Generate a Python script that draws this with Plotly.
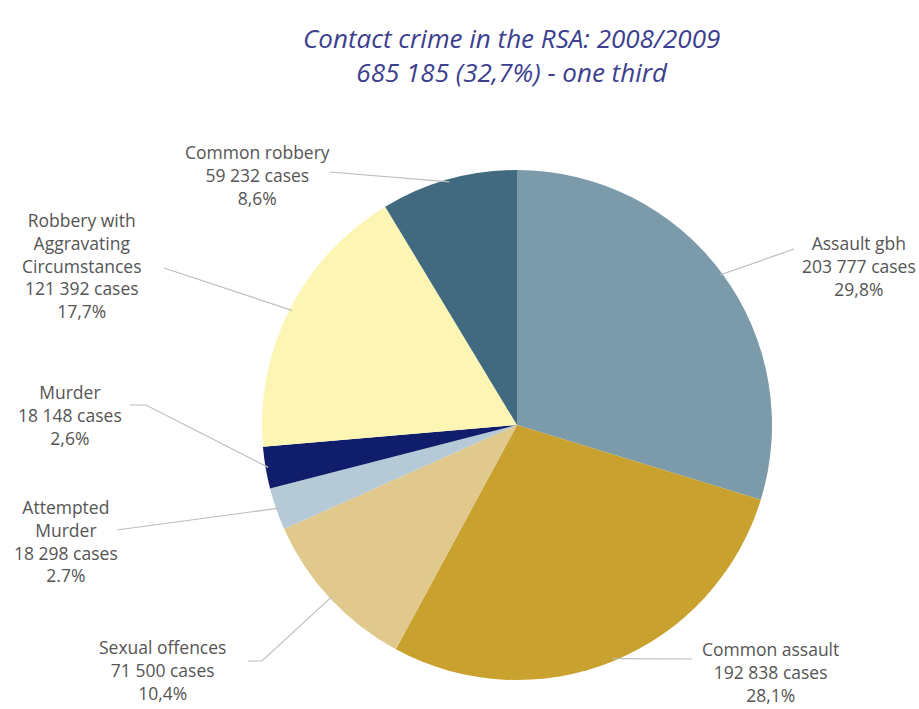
import math
import plotly.graph_objects as go

W, H = 919, 709

categories = ["Assault gbh", "Common assault", "Sexual offences", "Attempted<br>Murder",
              "Murder", "Robbery with<br>Aggravating<br>Circumstances", "Common robbery"]
cases = [203777, 192838, 71500, 18298, 18148, 121392, 59232]
case_labels = ["203 777 cases", "192 838 cases", "71 500 cases", "18 298 cases",
               "18 148 cases", "121 392 cases", "59 232 cases"]
pct_labels = ["29,8%", "28,1%", "10,4%", "2.7%", "2,6%", "17,7%", "8,6%"]
colors = ["#7b9bab", "#c9a12f", "#e1c98d", "#b6c9d6", "#0f1d6b", "#fdf5b4", "#416a80"]

# layout (pixel) positions of label blocks and leader-line label-side points
label_pos = [(859, 266), (770, 672), (162, 670), (66, 541), (70, 415), (82, 265), (257, 175)]
leader_start = [[(794, 249)], [(692, 659)], [(248, 661), (262, 661)], [(117, 530)],
                [(130, 405), (146, 405)], [(164, 268)], [(330, 172)]]

cx, cy, R = 517, 425, 255


def px(x):
    return x / W


def py(y):
    return 1 - y / H


fig = go.Figure(go.Pie(
    labels=[c.replace("<br>", " ") for c in categories],
    values=cases,
    sort=False,
    direction="clockwise",
    rotation=0,
    marker=dict(colors=colors, line=dict(width=0)),
    textinfo="none",
    hoverinfo="label+value+percent",
    showlegend=False,
    domain=dict(x=[px(cx - R), px(cx + R)], y=[py(cy + R), py(cy - R)]),
))

total = sum(cases)
cum = 0
shapes = []
annotations = []
for i, v in enumerate(cases):
    mid = (cum + v / 2) / total * 2 * math.pi
    cum += v
    ex = cx + R * 0.99 * math.sin(mid)
    ey = cy - R * 0.99 * math.cos(mid)
    pts = leader_start[i] + [(ex, ey)]
    path = "M " + " L ".join(f"{px(x)},{py(y)}" for x, y in pts)
    shapes.append(dict(type="path", xref="paper", yref="paper", path=path,
                       line=dict(color="#bdbdbd", width=1.2)))
    lx, ly = label_pos[i]
    annotations.append(dict(
        x=px(lx), y=py(ly), xref="paper", yref="paper",
        text=f"{categories[i]}<br>{case_labels[i]}<br>{pct_labels[i]}",
        showarrow=False, align="center", xanchor="center", yanchor="middle",
        font=dict(family="Open Sans", size=17.5, color="#555555"),
    ))

annotations.append(dict(
    x=px(511), y=py(55), xref="paper", yref="paper",
    text="<i>Contact crime in the RSA: 2008/2009<br>685 185 (32,7%) - one third</i>",
    showarrow=False, align="center", xanchor="center", yanchor="middle",
    font=dict(family="Open Sans", size=26, color="#3c3f8e"),
))

fig.update_layout(
    width=W, height=H,
    margin=dict(l=0, r=0, t=0, b=0),
    paper_bgcolor="white", plot_bgcolor="white",
    shapes=shapes, annotations=annotations,
)

fig.write_html("out.html")
